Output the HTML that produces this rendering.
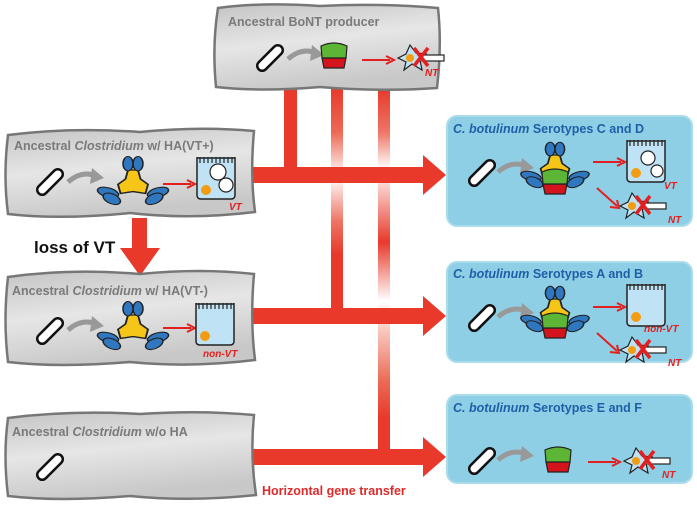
<!DOCTYPE html>
<html><head><meta charset="utf-8"><style>
html,body{margin:0;padding:0;background:#fff;}
svg{display:block;font-family:"Liberation Sans",Arial,sans-serif;}
</style></head><body>
<svg width="697" height="505" viewBox="0 0 697 505" xmlns="http://www.w3.org/2000/svg">
<defs>
<linearGradient id="gb" x1="0" y1="0" x2="0.3" y2="1">
<stop offset="0" stop-color="#c4c4c4"/><stop offset="0.5" stop-color="#e6e6e6"/><stop offset="1" stop-color="#c8c8c8"/></linearGradient>
<linearGradient id="v2" gradientUnits="userSpaceOnUse" x1="0" y1="88" x2="0" y2="310">
<stop offset="0" stop-color="#e8392a"/><stop offset="0.2" stop-color="#ec6a55"/><stop offset="0.4" stop-color="#fff"/><stop offset="0.6" stop-color="#ee7565"/><stop offset="0.75" stop-color="#e8392a"/><stop offset="1" stop-color="#e8392a"/></linearGradient>
<linearGradient id="v3" gradientUnits="userSpaceOnUse" x1="0" y1="88" x2="0" y2="455">
<stop offset="0" stop-color="#e8392a"/><stop offset="0.12" stop-color="#ee7565"/><stop offset="0.22" stop-color="#fff"/><stop offset="0.42" stop-color="#e8392a"/><stop offset="0.58" stop-color="#fff"/><stop offset="0.8" stop-color="#ec6a55"/><stop offset="0.9" stop-color="#e8392a"/></linearGradient>
<g id="rod"><rect x="-16" y="-5" width="32" height="10" rx="5" fill="#fff" stroke="#111" stroke-width="2.5" transform="rotate(-45)"/></g>
<g id="garr"><path d="M0,4 Q14,-8 28,-2" fill="none" stroke="#999" stroke-width="5"/><path d="M24,-10 L36,0 L22,6Z" fill="#999"/></g>
<g id="ha"><path d="M-4,-20 L4,-20 L6,-10 L12,-4 L10,6 L0,4 L-10,6 L-12,-4 L-6,-10Z" fill="#f5c518" stroke="#222" stroke-width="1.5"/>
<ellipse cx="-4" cy="-27" rx="4" ry="8" fill="#2f78c0" stroke="#222" stroke-width="1.2"/><ellipse cx="4" cy="-27" rx="4" ry="8" fill="#2f78c0" stroke="#222" stroke-width="1.2"/>
<ellipse cx="-20" cy="5" rx="9" ry="5" fill="#2f78c0" stroke="#222" stroke-width="1.2" transform="rotate(25 -20 5)"/><ellipse cx="-17" cy="12" rx="8" ry="5" fill="#2f78c0" stroke="#222" stroke-width="1.2" transform="rotate(40 -17 12)"/>
<ellipse cx="20" cy="5" rx="9" ry="5" fill="#2f78c0" stroke="#222" stroke-width="1.2" transform="rotate(-25 20 5)"/><ellipse cx="17" cy="12" rx="8" ry="5" fill="#2f78c0" stroke="#222" stroke-width="1.2" transform="rotate(-40 17 12)"/></g>
<g id="tox"><path d="M-12,-2 L12,-2 L10,8 L-10,8Z" fill="#d4141c" stroke="#222" stroke-width="1.2"/><path d="M-13,-14 Q0,-20 13,-14 L12,-2 L-12,-2Z" fill="#5cb534" stroke="#222" stroke-width="1.2"/></g>
<g id="cell"><path d="M0,0 L0,38 Q0,42 4,42 L34,42 Q38,42 38,38 L38,0" fill="#bfe3f5" stroke="#222" stroke-width="1.5"/>
<path d="M3,0 v6 M7,0 v6 M11,0 v6 M15,0 v6 M19,0 v6 M23,0 v6 M27,0 v6 M31,0 v6 M35,0 v6" stroke="#222" stroke-width="1.2"/><line x1="0" y1="1" x2="38" y2="1" stroke="#222" stroke-width="1.5"/>
<circle cx="9" cy="33" r="5" fill="#f39c12"/></g>
<g id="neu"><path d="M-14,0 L-6,-4 L-2,-13 L4,-5 L14,-4 L8,2 L10,12 L0,6 L-8,12 L-6,4Z" fill="#bfe3f5" stroke="#222" stroke-width="1.2"/><circle cx="-2" cy="0" r="4" fill="#f39c12"/>
<rect x="10" y="-3" width="22" height="6" fill="#fff" stroke="#222" stroke-width="1.2"/><path d="M2,-10 L16,8 M16,-10 L2,8" stroke="#e32020" stroke-width="3.5"/></g>
<g id="rarr"><line x1="0" y1="0" x2="28" y2="0" stroke="#e32020" stroke-width="2"/><path d="M24,-4 L32,0 L24,4" fill="none" stroke="#e32020" stroke-width="2"/></g>
</defs>

<!-- connectors -->
<rect x="284" y="86" width="13" height="92" fill="#e8392a"/>
<rect x="331" y="86" width="12" height="226" fill="url(#v2)"/>
<rect x="378" y="86" width="12" height="372" fill="url(#v3)"/>
<path d="M250,167 H423 V155 L446,175 L423,195 V183 H250Z" fill="#e8392a"/>
<path d="M250,308 H423 V296 L446,316 L423,336 V324 H250Z" fill="#e8392a"/>
<path d="M250,449 H423 V437 L446,457 L423,477 V465 H250Z" fill="#e8392a"/>
<text x="262" y="495" font-size="12.5" font-weight="bold" fill="#e02a2a">Horizontal gene transfer</text>

<!-- gray boxes -->
<path d="M218,8 Q260,2 320,6 Q380,3 438,8 Q442,45 437,88 Q380,92 320,87 Q260,92 216,87 Q212,45 218,8Z" fill="url(#gb)" stroke="#777" stroke-width="2.5"/>
<text x="228" y="26" font-size="12.5" font-weight="bold" fill="#7a7a7a">Ancestral BoNT producer</text>
<use href="#rod" x="270" y="58"/><use href="#garr" x="288" y="55"/><use href="#tox" x="334" y="60"/><use href="#rarr" x="362" y="60"/><use href="#neu" x="412" y="58"/>
<text x="425" y="76" font-size="10" font-weight="bold" font-style="italic" fill="#e32020">NT</text>

<path d="M8,135 Q70,127 140,132 Q200,126 254,131 Q250,175 255,212 Q190,220 130,213 Q60,220 8,214 Q3,175 8,135Z" fill="url(#gb)" stroke="#777" stroke-width="2.5"/>
<text x="14" y="150" font-size="12.5" font-weight="bold" fill="#7a7a7a">Ancestral <tspan font-style="italic">Clostridium</tspan> w/ HA(VT+)</text>
<use href="#rod" x="50" y="182"/><use href="#garr" x="68" y="178"/><use href="#ha" transform="translate(133 188) scale(1.25 0.9)"/><use href="#rarr" x="163" y="184"/><use href="#cell" x="197" y="157"/>
<circle cx="218" cy="172" r="8" fill="#fff" stroke="#222" stroke-width="1.2"/><circle cx="226" cy="185" r="7" fill="#fff" stroke="#222" stroke-width="1.2"/>
<text x="229" y="210" font-size="10" font-weight="bold" font-style="italic" fill="#e32020">VT</text>

<path d="M132,218 H147 V248 H160 L140,276 L120,248 H132Z" fill="#e8392a"/>
<text x="34" y="253" font-size="17" font-weight="bold" fill="#111">loss of VT</text>

<path d="M8,277 Q70,268 140,274 Q200,268 254,274 Q250,320 255,360 Q190,368 130,362 Q60,368 8,362 Q3,320 8,277Z" fill="url(#gb)" stroke="#777" stroke-width="2.5"/>
<text x="12" y="295" font-size="12.5" font-weight="bold" fill="#7a7a7a">Ancestral <tspan font-style="italic">Clostridium</tspan> w/ HA(VT-)</text>
<use href="#rod" x="50" y="331"/><use href="#garr" x="68" y="326"/><use href="#ha" transform="translate(133 333) scale(1.25 0.9)"/><use href="#rarr" x="163" y="328"/><use href="#cell" x="196" y="303"/>
<text x="203" y="357" font-size="10" font-weight="bold" font-style="italic" fill="#e32020">non-VT</text>

<path d="M8,418 Q70,410 140,414 Q200,410 254,415 Q250,455 256,495 Q190,502 130,496 Q60,502 8,496 Q3,455 8,418Z" fill="url(#gb)" stroke="#777" stroke-width="2.5"/>
<text x="12" y="436" font-size="12.5" font-weight="bold" fill="#7a7a7a">Ancestral <tspan font-style="italic">Clostridium</tspan> w/o HA</text>
<use href="#rod" x="50" y="467"/>

<!-- blue boxes -->
<rect x="447" y="116" width="245" height="110" rx="10" fill="#8fcfe6" stroke="#aadcec" stroke-width="2"/>
<text x="453" y="133" font-size="12.5" font-weight="bold" fill="#1f5fa8"><tspan font-style="italic">C. botulinum</tspan> Serotypes C and D</text>
<use href="#rod" x="482" y="173"/><use href="#garr" x="498" y="168"/><use href="#ha" transform="translate(555 172) scale(1.2 0.85)"/><use href="#tox" transform="translate(555 186)"/><use href="#rarr" x="593" y="162"/><use href="#cell" x="627" y="140"/>
<circle cx="648" cy="158" r="7" fill="#fff" stroke="#222" stroke-width="1.2"/><circle cx="657" cy="171" r="6" fill="#fff" stroke="#222" stroke-width="1.2"/>
<text x="664" y="189" font-size="10" font-weight="bold" font-style="italic" fill="#e32020">VT</text>
<line x1="597" y1="188" x2="617" y2="206" stroke="#e32020" stroke-width="2"/><path d="M610,207 L619,208 L617,200" fill="none" stroke="#e32020" stroke-width="2"/>
<use href="#neu" x="634" y="206"/><text x="668" y="223" font-size="10" font-weight="bold" font-style="italic" fill="#e32020">NT</text>

<rect x="447" y="262" width="245" height="100" rx="10" fill="#8fcfe6" stroke="#aadcec" stroke-width="2"/>
<text x="453" y="278" font-size="12.5" font-weight="bold" fill="#1f5fa8"><tspan font-style="italic">C. botulinum</tspan> Serotypes A and B</text>
<use href="#rod" x="482" y="318"/><use href="#garr" x="498" y="313"/><use href="#ha" transform="translate(555 316) scale(1.2 0.85)"/><use href="#tox" transform="translate(555 330)"/><use href="#rarr" x="593" y="307"/><use href="#cell" x="627" y="284"/>
<text x="644" y="332" font-size="10" font-weight="bold" font-style="italic" fill="#e32020">non-VT</text>
<line x1="597" y1="333" x2="617" y2="351" stroke="#e32020" stroke-width="2"/><path d="M610,352 L619,353 L617,345" fill="none" stroke="#e32020" stroke-width="2"/>
<use href="#neu" x="634" y="350"/><text x="668" y="366" font-size="10" font-weight="bold" font-style="italic" fill="#e32020">NT</text>

<rect x="447" y="395" width="245" height="88" rx="10" fill="#8fcfe6" stroke="#aadcec" stroke-width="2"/>
<text x="453" y="412" font-size="12.5" font-weight="bold" fill="#1f5fa8"><tspan font-style="italic">C. botulinum</tspan> Serotypes E and F</text>
<use href="#rod" x="482" y="461"/><use href="#garr" x="498" y="456"/><use href="#tox" x="558" y="464"/><use href="#rarr" x="588" y="462"/><use href="#neu" x="638" y="461"/>
<text x="662" y="478" font-size="10" font-weight="bold" font-style="italic" fill="#e32020">NT</text>
</svg>
</body></html>
